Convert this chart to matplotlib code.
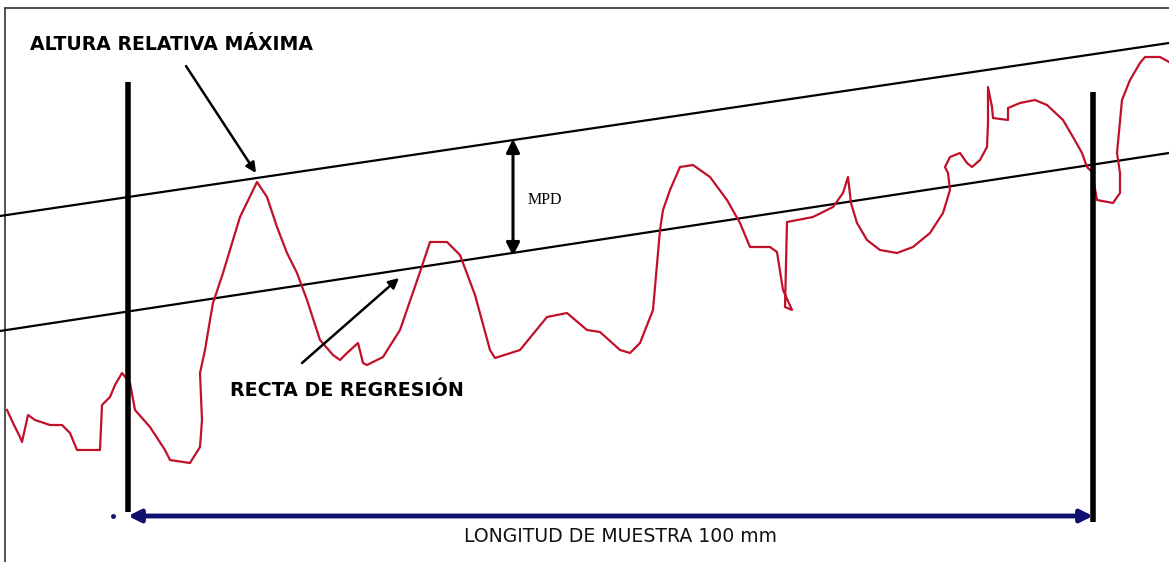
import matplotlib.pyplot as plt

# profile (pixel coordinates, y grows downward)
profile_x = [7, 14, 20, 22, 28, 35, 50, 62, 70, 77, 100, 102, 110, 115, 122, 130, 135, 150,
             165, 170, 190, 200, 202, 200, 205, 210, 213, 223, 233, 240, 257, 267, 277, 287,
             297, 307, 320, 333, 340, 347, 358, 363, 367, 383, 400, 420, 430, 447, 460, 475,
             490, 495, 520, 547, 567, 587, 600, 620, 630, 640, 653, 660, 663, 670, 680, 693,
             710, 727, 740, 750, 770, 777, 783, 792, 785, 787, 813, 833, 843, 848, 851, 857,
             867, 880, 897, 913, 930, 943, 950, 948, 945, 950, 960, 967, 972, 980, 987, 988,
             988, 992, 993, 1008, 1008, 1020, 1035, 1047, 1063, 1073, 1082, 1087, 1092, 1097,
             1113, 1120, 1120, 1117, 1122, 1130, 1140, 1145, 1160, 1169]
profile_y = [410, 425, 437, 442, 415, 420, 425, 425, 433, 450, 450, 405, 397, 385, 373, 383, 410, 427,
             450, 460, 463, 447, 420, 373, 350, 320, 303, 273, 240, 217, 182, 197, 227, 253,
             273, 300, 340, 355, 360, 353, 343, 363, 365, 357, 330, 272, 242, 242, 255, 295,
             350, 358, 350, 317, 313, 330, 332, 350, 353, 343, 310, 230, 210, 190, 167, 165,
             177, 200, 223, 247, 247, 252, 290, 310, 307, 222, 217, 207, 193, 177, 203, 223,
             240, 250, 253, 247, 233, 213, 190, 173, 167, 157, 153, 163, 167, 160, 147, 123,
             87, 107, 118, 120, 108, 103, 100, 105, 120, 137, 153, 167, 172, 200,
             203, 193, 173, 153, 100, 80, 63, 57, 57, 62]

# reference lines: y at x = 0 and x = 1169
line_x = [0, 1169]
upper_line_y = [216, 43]
regression_y = [331, 153]

# sample length limits
limit_x = [128, 1093]
limit_top = [82, 92]
limit_bottom = [512, 522]
arrow_y = 516

fig = plt.figure(figsize=(11.69, 5.62), dpi=100)
ax = fig.add_axes([0, 0, 1, 1])
ax.set_xlim(0, 1169)
ax.set_ylim(562, 0)
ax.axis("off")

# frame (top and left edges)
ax.plot([5, 1169], [8, 8], color="#333333", lw=1.2)
ax.plot([5, 5], [8, 562], color="#333333", lw=1.2)

ax.plot(line_x, upper_line_y, color="black", lw=1.6)
ax.plot(line_x, regression_y, color="black", lw=1.6)
ax.plot(profile_x, profile_y, color="#c0102a", lw=1.6)

for x, t, b in zip(limit_x, limit_top, limit_bottom):
    ax.plot([x, x], [t, b], color="black", lw=4, solid_capstyle="butt")

ax.annotate("", xy=(limit_x[0], arrow_y), xytext=(limit_x[1], arrow_y),
            arrowprops=dict(arrowstyle="<|-|>", color="#10106e", lw=3.5,
                            mutation_scale=18, shrinkA=0, shrinkB=0))
ax.plot([113], [516], marker="o", ms=2.5, color="#10106e")

# MPD arrow
ax.annotate("", xy=(513, 139), xytext=(513, 256),
            arrowprops=dict(arrowstyle="<|-|>", color="black", lw=2.2,
                            mutation_scale=20, shrinkA=0, shrinkB=0))
ax.text(528, 200, "MPD", fontsize=11.5, family="Liberation Serif", va="center", ha="left")

# labels with pointers
ax.text(30, 44, "ALTURA RELATIVA MÁXIMA", fontsize=13.6, fontweight="bold",
        family="DejaVu Sans", va="center", ha="left")
ax.annotate("", xy=(256, 173), xytext=(186, 66),
            arrowprops=dict(arrowstyle="-|>", color="black", lw=1.8,
                            mutation_scale=15, shrinkA=0, shrinkB=0))
ax.text(230, 391, "RECTA DE REGRESIÓN", fontsize=13.7, fontweight="bold",
        family="DejaVu Sans", va="center", ha="left")
ax.annotate("", xy=(399, 278), xytext=(302, 363),
            arrowprops=dict(arrowstyle="-|>", color="black", lw=1.8,
                            mutation_scale=15, shrinkA=0, shrinkB=0))

ax.text(621, 537, "LONGITUD DE MUESTRA 100 mm", fontsize=13.6, family="DejaVu Sans",
        va="center", ha="center", color="#111111")

fig.savefig("out.png", dpi=100)
